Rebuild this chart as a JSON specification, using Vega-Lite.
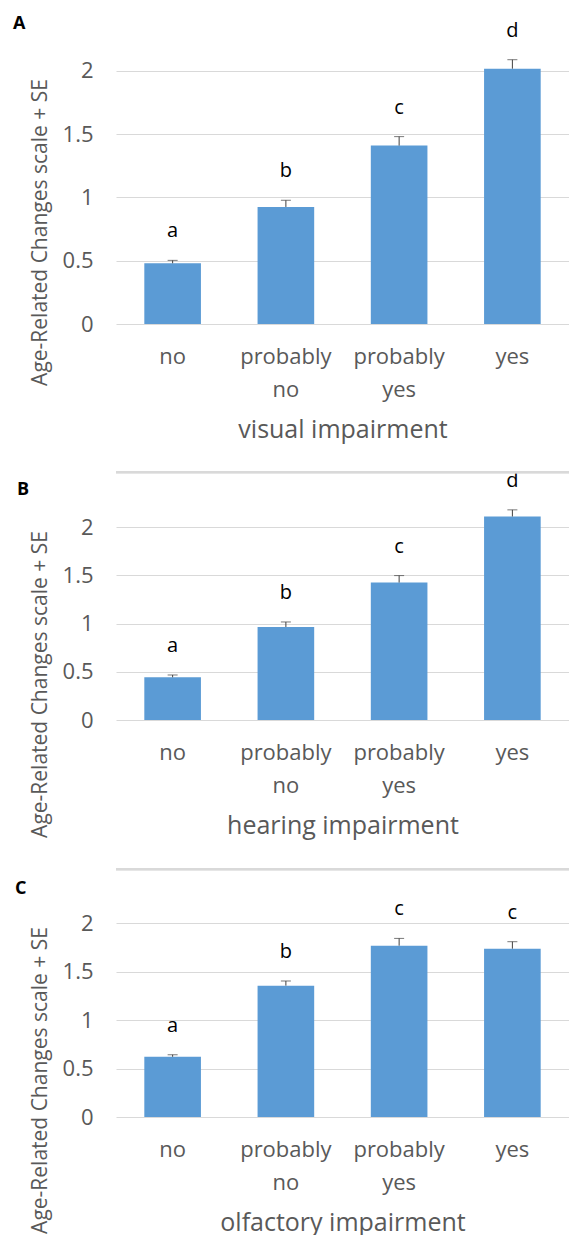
{
  "$schema": "https://vega.github.io/schema/vega-lite/v6.json",
  "padding": {"left": 13, "top": 14, "right": 0, "bottom": 0},
  "background": "white",
  "bounds": "flush",
  "spacing": 155,
  "config": {
    "font": "Open Sans",
    "view": {"stroke": null},
    "title": {"font": "Open Sans", "fontSize": 18, "fontWeight": "bold", "color": "black", "anchor": "start", "frame": "group"},
    "axisX": {"domain": false, "ticks": false, "grid": false, "labelAngle": 0, "labelFont": "Open Sans", "labelFontSize": 22, "labelColor": "#595959", "labelPadding": 22, "labelLineHeight": 33, "titleFont": "Open Sans", "titleFontSize": 25, "titleFontWeight": "normal", "titleColor": "#595959", "titleBaseline": "middle", "titleY": 105},
    "axisY": {"domain": false, "ticks": false, "grid": true, "gridColor": "#D9D9D9", "gridWidth": 1, "labelFont": "Open Sans", "labelFontSize": 22, "labelColor": "#595959", "labelPadding": 23, "titleFont": "Open Sans", "titleFontSize": 21, "titleFontWeight": "normal", "titleColor": "#595959", "titleBaseline": "middle", "titleX": -76}
  },
  "data": {"values": [
    {"panel": "A", "cat": "no", "mean": 0.48, "upper": 0.503, "letter": "a"},
    {"panel": "A", "cat": "probably no", "mean": 0.925, "upper": 0.978, "letter": "b"},
    {"panel": "A", "cat": "probably yes", "mean": 1.41, "upper": 1.481, "letter": "c"},
    {"panel": "A", "cat": "yes", "mean": 2.018, "upper": 2.089, "letter": "d"},
    {"panel": "B", "cat": "no", "mean": 0.443, "upper": 0.467, "letter": "a"},
    {"panel": "B", "cat": "probably no", "mean": 0.965, "upper": 1.017, "letter": "b"},
    {"panel": "B", "cat": "probably yes", "mean": 1.426, "upper": 1.498, "letter": "c"},
    {"panel": "B", "cat": "yes", "mean": 2.111, "upper": 2.18, "letter": "d"},
    {"panel": "C", "cat": "no", "mean": 0.622, "upper": 0.643, "letter": "a"},
    {"panel": "C", "cat": "probably no", "mean": 1.357, "upper": 1.405, "letter": "b"},
    {"panel": "C", "cat": "probably yes", "mean": 1.77, "upper": 1.845, "letter": "c"},
    {"panel": "C", "cat": "yes", "mean": 1.739, "upper": 1.811, "letter": "c"}
  ]},
  "vconcat": [
    {
      "width": 453, "height": 291,
      "title": {"text": "A", "dx": -103, "offset": -12},
      "transform": [{"filter": "datum.panel === 'A'"}],
      "layer": [
        {"mark": {"type": "bar", "color": "#5B9BD5"}, "encoding": {
          "x": {"field": "cat", "type": "nominal", "sort": ["no", "probably no", "probably yes", "yes"], "scale": {"paddingInner": 0.5, "paddingOuter": 0.25}, "axis": {"title": "visual impairment", "labelExpr": "split(datum.label, ' ')"}},
          "y": {"field": "mean", "type": "quantitative", "scale": {"domain": [0, 2.3], "nice": false}, "axis": {"title": "Age-Related Changes scale + SE", "titleY": 199, "values": [0, 0.5, 1, 1.5, 2], "format": "~g"}}}},
        {"mark": {"type": "rule", "color": "#404040", "strokeWidth": 1}, "encoding": {"x": {"field": "cat", "type": "nominal"}, "y": {"field": "mean", "type": "quantitative"}, "y2": {"field": "upper"}}},
        {"mark": {"type": "tick", "color": "#404040", "size": 10, "thickness": 1}, "encoding": {"x": {"field": "cat", "type": "nominal"}, "y": {"field": "upper", "type": "quantitative"}}},
        {"mark": {"type": "text", "dy": -23, "baseline": "alphabetic", "fontSize": 20, "color": "black"}, "encoding": {"x": {"field": "cat", "type": "nominal"}, "y": {"field": "upper", "type": "quantitative"}, "text": {"field": "letter"}}}
      ]
    },
    {
      "width": 453, "height": 241,
      "title": {"text": "B", "dx": -99, "offset": -28},
      "transform": [{"filter": "datum.panel === 'B'"}],
      "layer": [
        {"mark": {"type": "bar", "color": "#5B9BD5"}, "encoding": {
          "x": {"field": "cat", "type": "nominal", "sort": ["no", "probably no", "probably yes", "yes"], "scale": {"paddingInner": 0.5, "paddingOuter": 0.25}, "axis": {"title": "hearing impairment", "labelExpr": "split(datum.label, ' ')"}},
          "y": {"field": "mean", "type": "quantitative", "scale": {"domain": [0, 2.5], "nice": false}, "axis": {"title": "Age-Related Changes scale + SE", "titleY": 205, "values": [0, 0.5, 1, 1.5, 2], "format": "~g"}}}},
        {"mark": {"type": "rule", "color": "#404040", "strokeWidth": 1}, "encoding": {"x": {"field": "cat", "type": "nominal"}, "y": {"field": "mean", "type": "quantitative"}, "y2": {"field": "upper"}}},
        {"mark": {"type": "tick", "color": "#404040", "size": 10, "thickness": 1}, "encoding": {"x": {"field": "cat", "type": "nominal"}, "y": {"field": "upper", "type": "quantitative"}}},
        {"mark": {"type": "text", "dy": -23, "baseline": "alphabetic", "fontSize": 20, "color": "black"}, "encoding": {"x": {"field": "cat", "type": "nominal"}, "y": {"field": "upper", "type": "quantitative"}, "text": {"field": "letter"}}},
        {"mark": {"type": "rule", "color": "#D9D9D9", "strokeWidth": 2}, "encoding": {"y": {"datum": 2.57}}}
      ]
    },
    {
      "width": 453, "height": 242,
      "title": {"text": "C", "dx": -101, "offset": -30},
      "transform": [{"filter": "datum.panel === 'C'"}],
      "layer": [
        {"mark": {"type": "bar", "color": "#5B9BD5"}, "encoding": {
          "x": {"field": "cat", "type": "nominal", "sort": ["no", "probably no", "probably yes", "yes"], "scale": {"paddingInner": 0.5, "paddingOuter": 0.25}, "axis": {"title": "olfactory impairment", "labelExpr": "split(datum.label, ' ')"}},
          "y": {"field": "mean", "type": "quantitative", "scale": {"domain": [0, 2.5], "nice": false}, "axis": {"title": "Age-Related Changes scale + SE", "titleY": 205, "values": [0, 0.5, 1, 1.5, 2], "format": "~g"}}}},
        {"mark": {"type": "rule", "color": "#404040", "strokeWidth": 1}, "encoding": {"x": {"field": "cat", "type": "nominal"}, "y": {"field": "mean", "type": "quantitative"}, "y2": {"field": "upper"}}},
        {"mark": {"type": "tick", "color": "#404040", "size": 10, "thickness": 1}, "encoding": {"x": {"field": "cat", "type": "nominal"}, "y": {"field": "upper", "type": "quantitative"}}},
        {"mark": {"type": "text", "dy": -23, "baseline": "alphabetic", "fontSize": 20, "color": "black"}, "encoding": {"x": {"field": "cat", "type": "nominal"}, "y": {"field": "upper", "type": "quantitative"}, "text": {"field": "letter"}}},
        {"mark": {"type": "rule", "color": "#D9D9D9", "strokeWidth": 2}, "encoding": {"y": {"datum": 2.56}}}
      ]
    }
  ]
}
